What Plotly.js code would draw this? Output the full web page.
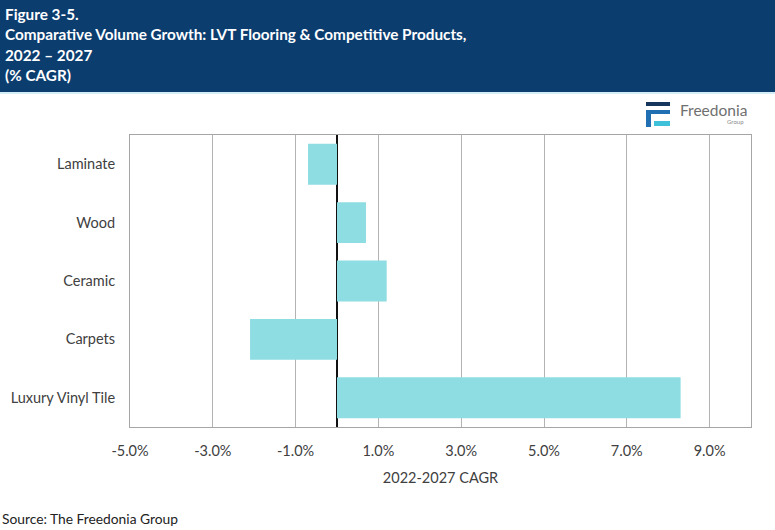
<!DOCTYPE html>
<html>
<head>
<meta charset="utf-8">
<script src="https://cdn.plot.ly/plotly-3.0.1.min.js"></script>
<style>html,body{margin:0;padding:0;background:#fff;}#chart{width:775px;height:530px;}</style>
</head>
<body>
<div id="chart"></div>
<script>
const categories = ["Laminate", "Wood", "Ceramic", "Carpets", "Luxury Vinyl Tile"];
const cagr = [-0.7, 0.7, 1.2, -2.1, 8.3];
const tickValues = [-5, -3, -1, 1, 3, 5, 7, 9];
const tickLabels = ["-5.0%", "-3.0%", "-1.0%", "1.0%", "3.0%", "5.0%", "7.0%", "9.0%"];
const titleLines = ["Figure 3-5.", "Comparative Volume Growth: LVT Flooring &amp; Competitive Products,", "2022 \u2013 2027", "(% CAGR)"];
const axisTitle = "2022-2027 CAGR";
const sourceText = "Source: The Freedonia Group";

const W = 775, H = 530;
const m = {l: 130, r: 24, t: 135, b: 103};
const pw = W - m.l - m.r, ph = H - m.t - m.b;
const px = x => (x - m.l) / pw;           // pixel -> paper x
const py = y => 1 - (y - m.t) / ph;       // pixel -> paper y

const font = "Lato, 'Open Sans', sans-serif";

const annotations = titleLines.map((t, i) => ({
  text: "<b>" + t + "</b>", xref: "paper", yref: "paper",
  x: px(3), y: py(14 + i * 20.3), xanchor: "left", yanchor: "middle",
  showarrow: false, font: {family: font, size: 15.3, color: "#ffffff"}
}));
annotations.push({
  text: sourceText, xref: "paper", yref: "paper", x: px(0), y: py(518),
  xanchor: "left", yanchor: "middle", showarrow: false,
  font: {family: font, size: 13.8, color: "#222222"}
});
annotations.push({
  text: "Freedonia", xref: "paper", yref: "paper", x: px(678), y: py(110),
  xanchor: "left", yanchor: "middle", showarrow: false,
  font: {family: font, size: 15.5, color: "#6f6f6f"}
});
annotations.push({
  text: "Group", xref: "paper", yref: "paper", x: px(746), y: py(121),
  xanchor: "right", yanchor: "middle", showarrow: false,
  font: {family: font, size: 6, color: "#8a8a8a"}
});

const shapes = [
  {type: "rect", xref: "paper", yref: "paper", x0: px(-5), x1: px(780), y0: py(92), y1: py(-5),
   fillcolor: "#0b3d6f", line: {width: 0}, layer: "below"},
  {type: "rect", xref: "paper", yref: "paper", x0: px(-5), x1: px(780), y0: py(94), y1: py(92),
   fillcolor: "#d6ecf7", line: {width: 0}, layer: "below"},
  // logo icon
  {type: "rect", xref: "paper", yref: "paper", x0: px(646), x1: px(670), y0: py(106), y1: py(102),
   fillcolor: "#17365d", line: {width: 0}},
  {type: "rect", xref: "paper", yref: "paper", x0: px(646), x1: px(670), y0: py(114), y1: py(110),
   fillcolor: "#1f6fb2", line: {width: 0}},
  {type: "rect", xref: "paper", yref: "paper", x0: px(646), x1: px(651), y0: py(127), y1: py(110),
   fillcolor: "#1f6fb2", line: {width: 0}},
  {type: "rect", xref: "paper", yref: "paper", x0: px(654), x1: px(670), y0: py(126), y1: py(121),
   fillcolor: "#3fc1d9", line: {width: 0}}
];

const trace = {
  type: "bar", orientation: "h", x: cagr, y: categories,
  marker: {color: "#8edde2", line: {width: 0}},
  hoverinfo: "skip"
};

const layout = {
  width: W, height: H, margin: m,
  paper_bgcolor: "#ffffff", plot_bgcolor: "#ffffff",
  showlegend: false, bargap: 0.3,
  font: {family: font, color: "#404040"},
  xaxis: {
    range: [-5, 10], tickvals: tickValues, ticktext: tickLabels,
    showgrid: true, gridcolor: "#b3b3b3", gridwidth: 1,
    zeroline: true, zerolinecolor: "#111111", zerolinewidth: 2,
    showline: true, mirror: true, linecolor: "#a6a6a6", linewidth: 1,
    ticks: "", ticklabelstandoff: 11, tickfont: {size: 14.5, color: "#404040"},
    title: {text: axisTitle, font: {size: 14.5, color: "#404040"}, standoff: 14},
    fixedrange: true
  },
  yaxis: {
    autorange: "reversed", type: "category",
    showgrid: false, zeroline: false,
    showline: true, mirror: true, linecolor: "#a6a6a6", linewidth: 1,
    ticks: "", ticklabelstandoff: 11, tickfont: {size: 14.5, color: "#404040"},
    fixedrange: true
  },
  annotations: annotations,
  shapes: shapes
};

Plotly.newPlot("chart", [trace], layout, {displayModeBar: false, staticPlot: true});
</script>
</body>
</html>
